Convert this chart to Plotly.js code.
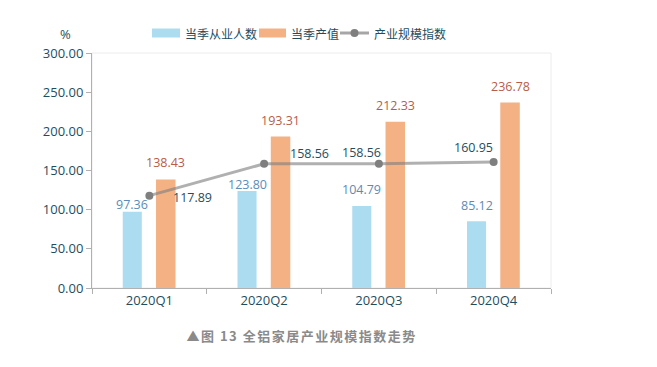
<!DOCTYPE html>
<html><head><meta charset="utf-8">
<script src="https://cdn.plot.ly/plotly-3.0.1.min.js"></script>
<style>html,body{margin:0;padding:0;background:#fff;}#c{width:657px;height:367px;}</style>
</head><body><div id="c"></div>
<script>
const categories = ['2020Q1','2020Q2','2020Q3','2020Q4'];
const employees = [97.36, 123.80, 104.79, 85.12];
const output = [138.43, 193.31, 212.33, 236.78];
const scaleIndex = [117.89, 158.56, 158.56, 160.95];
const seriesNames = ['当季从业人数','当季产值','产业规模指数'];
const captionText = '▲图 13 全铝家居产业规模指数走势';

const fontFam = '"Open Sans", "Noto Sans CJK SC", sans-serif';
const cjkFam = '"Noto Sans CJK SC", "Open Sans", sans-serif';
const teal = '#1f4d5e';
const blue = '#acdcf0', orange = '#f4b184';
// label offsets (pixels)
const lineLabelShift = [[43,-2],[45,10],[-17,11],[-20,14]];
const empLabelShift = [7,7,16,16];
const outLabelShift = [17,16,16,16];

const traces = [
  {type:'bar', x:categories, y:employees, name:seriesNames[0], showlegend:false,
   marker:{color:blue}, width:0.166, offset:-0.232},
  {type:'bar', x:categories, y:output, name:seriesNames[1], showlegend:false,
   marker:{color:orange}, width:0.17, offset:0.058},
  {type:'scatter', mode:'lines+markers', x:categories, y:scaleIndex, name:seriesNames[2], showlegend:false,
   line:{color:'rgba(128,128,128,0.62)', width:3},
   marker:{color:'#7f7f7f', size:8}}
];

const annotations = [];
scaleIndex.forEach((v,i)=>annotations.push({
  x:categories[i], y:v, xref:'x', yref:'y', text:v.toFixed(2), showarrow:false,
  xshift:lineLabelShift[i][0], yshift:lineLabelShift[i][1],
  font:{color:teal, size:12.5, family:fontFam}}));
employees.forEach((v,i)=>annotations.push({
  x:i-0.232+0.083, y:v, xref:'x', yref:'y', text:v.toFixed(2), showarrow:false,
  yshift:empLabelShift[i], yanchor:'middle',
  font:{color:'#5b8cb7', size:12.5, family:fontFam}}));
output.forEach((v,i)=>annotations.push({
  x:i+0.058+0.085, y:v, xref:'x', yref:'y', text:v.toFixed(2), showarrow:false,
  yshift:outLabelShift[i], yanchor:'middle',
  font:{color:'#b85c49', size:12.5, family:fontFam}}));

const px = p => (p-92)/459, py = p => (288-p)/235;
annotations.push({xref:'paper', yref:'paper', x:px(65), y:py(34), xanchor:'center', yanchor:'middle',
  text:'%', showarrow:false, font:{color:teal, size:13, family:fontFam}});
// custom legend
const legendItems = [
  {x0:152, x1:180, text:seriesNames[0], tx:183, kind:'rect', color:blue},
  {x0:259, x1:286, text:seriesNames[1], tx:289, kind:'rect', color:orange},
  {x0:340, x1:369, text:seriesNames[2], tx:372, kind:'line', color:'#8a8a8a'}
];
const shapes = [{type:'rect', xref:'paper', yref:'paper', x0:0, x1:1, y0:0, y1:1,
    line:{color:'#ececec', width:1}, layer:'below'}];
legendItems.forEach(it=>{
  if(it.kind==='rect'){
    shapes.push({type:'rect', xref:'paper', yref:'paper', x0:px(it.x0), x1:px(it.x1),
      y0:py(37.5), y1:py(28.5), fillcolor:it.color, line:{width:0}});
  } else {
    shapes.push({type:'line', xref:'paper', yref:'paper', x0:px(it.x0), x1:px(it.x1),
      y0:py(33), y1:py(33), line:{color:'rgba(128,128,128,0.7)', width:3}});
    shapes.push({type:'circle', xref:'paper', yref:'paper', x0:px(350.5), x1:px(358.5),
      y0:py(37), y1:py(29), fillcolor:'#7f7f7f', line:{width:0}});
  }
  annotations.push({xref:'paper', yref:'paper', x:px(it.tx), y:py(33), xanchor:'left', yanchor:'middle',
    text:it.text, showarrow:false, font:{color:teal, size:12, family:cjkFam}});
});
annotations.push({xref:'paper', yref:'paper', x:px(301), y:py(335), xanchor:'center', yanchor:'middle',
  text:captionText, showarrow:false,
  font:{color:'#8a8a8a', size:13, family:cjkFam, weight:'bold'}});

const layout = {
  width:657, height:367,
  margin:{l:92, r:106, t:53, b:79},
  paper_bgcolor:'#fff', plot_bgcolor:'#fff',
  barmode:'overlay',
  showlegend:false,
  xaxis:{type:'category', showline:true, linecolor:'#b0b0b0', linewidth:1,
    ticks:'outside', tickson:'boundaries', ticklen:5, tickcolor:'#b0b0b0',
    showgrid:false, tickfont:{color:teal, size:13, family:fontFam}, range:[-0.5,3.5]},
  yaxis:{range:[0,300], dtick:50, tickformat:'.2f', showline:true, linecolor:'#b0b0b0',
    ticks:'outside', ticklen:5, tickcolor:'#b0b0b0', showgrid:false, zeroline:false,
    tickfont:{color:teal, size:13, family:fontFam}},
  shapes:shapes,
  annotations:annotations
};
Plotly.newPlot('c', traces, layout, {displayModeBar:false}).then(()=>{
  document.querySelectorAll('.annotation-text').forEach(t=>{
    if(t.textContent===captionText){ t.style.letterSpacing='1.5px'; }
  });
});
</script></body></html>
